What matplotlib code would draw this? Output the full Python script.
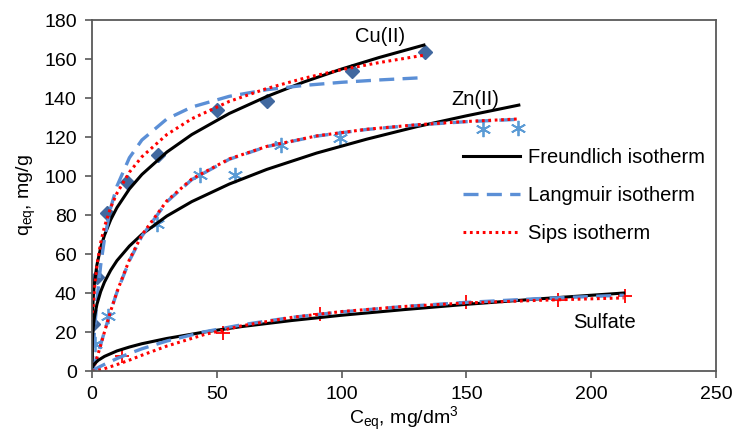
import matplotlib
matplotlib.use("Agg")
import matplotlib.pyplot as plt

plt.rcParams['font.family'] = ['Liberation Sans', 'DejaVu Sans']
plt.rcParams['mathtext.fontset'] = 'custom'
plt.rcParams['mathtext.rm'] = 'Liberation Sans'
plt.rcParams['mathtext.it'] = 'Liberation Sans'

# measured points
cu_c = [0.5, 2, 6, 14, 26.4, 50, 70, 104, 133.4]
cu_q = [24, 48, 81, 97, 110.6, 134, 138.4, 154, 163.6]
zn_c = [1.2, 6.5, 26, 43.3, 57.3, 75.7, 99.4, 156.7, 170.7]
zn_q = [14, 28, 75.6, 100.8, 100.8, 115.7, 119.3, 124, 124.5]
su_c = [12, 52.5, 91.5, 150, 186.7, 213.5]
su_q = [7.5, 19.6, 29.3, 35.5, 36.5, 38.6]

# isotherm curves
cu_x = [0, 0.05, 0.2, 0.5, 1, 2, 3.5, 5, 7.5, 10, 15, 20, 30, 40, 55, 70, 85, 100, 115, 133]
cu_fr = [0.0, 20.4, 29.5, 37.6, 45.3, 54.5, 63.3, 69.6, 77.6, 83.8, 93.4, 100.8, 112.3, 121.3,
         132.1, 140.8, 148.3, 154.9, 160.8, 167.2]
cu_la = [0.0, 1.2, 4.6, 11.0, 20.6, 36.5, 54.4, 67.7, 83.7, 94.8, 109.4, 118.5, 129.3, 135.4,
         140.9, 144.3, 146.5, 148.1, 149.3, 150.5]
cu_si = [0.0, 12.6, 22.5, 32.5, 42.3, 54.5, 65.9, 74.0, 83.9, 91.2, 102.0, 109.9, 121.3, 129.4,
         138.3, 144.9, 150.2, 154.6, 158.2, 162.0]

zn_x = [0, 0.2, 0.5, 1, 2, 3.5, 5, 7.5, 10, 15, 20, 30, 40, 55, 70, 90, 110, 130, 150, 171]
zn_fr = [0.0, 16.8, 22.3, 27.7, 34.3, 40.8, 45.6, 51.7, 56.6, 64.1, 70.1, 79.5, 86.9, 95.9,
         103.4, 111.8, 118.9, 125.3, 130.9, 136.4]
zn_la = [0.0, 0.6, 1.6, 3.3, 7.2, 13.6, 20.2, 30.8, 40.4, 56.6, 69.2, 86.8, 98.2, 108.6,
         115.1, 120.5, 123.9, 126.2, 127.9, 129.1]
zn_si = [0.0, 0.4, 1.2, 2.8, 6.8, 13.3, 20.0, 30.8, 40.6, 57.1, 69.8, 87.3, 98.5, 108.8,
         115.2, 120.6, 124.0, 126.3, 128.0, 129.3]

su_x = [0, 0.2, 0.5, 1, 2.5, 5, 10, 15, 20, 30, 45, 60, 80, 100, 125, 150, 180, 213]
su_fr = [0.0, 1.8, 2.7, 3.7, 5.5, 7.5, 10.3, 12.3, 14.0, 16.7, 20.0, 22.8, 25.9, 28.6, 31.5,
         34.2, 37.1, 40.0]
su_la = [0.0, 0.1, 0.4, 0.7, 1.8, 3.4, 6.4, 9.0, 11.4, 15.4, 20.1, 23.7, 27.5, 30.3, 33.1,
         35.2, 37.2, 38.9]
su_si = [0.0, 0.0, 0.0, 0.1, 0.4, 1.2, 3.3, 5.6, 8.1, 12.8, 18.7, 23.2, 27.5, 30.5, 33.1,
         34.9, 36.3, 37.5]

BLACK = "black"
BLUE = "#5b8fd6"
RED = "red"
DIAMOND = "#41689f"
STAR = "#5b9bd5"
SPINE = "#595959"
FS = 14

fig = plt.figure(figsize=(7.34, 4.37), dpi=100)
ax = fig.add_axes([0.1253, 0.151, 0.8502, 0.803])

fr_kw = dict(color=BLACK, lw=2.2, ls="-")
la_kw = dict(color=BLUE, lw=2.4, ls=(0, (4.5, 2.5)))
si_kw = dict(color=RED, lw=2.2, ls=(0, (0.9, 1.2)))

ax.plot(cu_c, cu_q, ls="none", marker="D", ms=7, color=DIAMOND)
ax.plot(zn_c, zn_q, ls="none", marker=(6, 2, 0), ms=11, mew=1.3, color=STAR)
ax.plot(su_c, su_q, ls="none", marker="+", ms=10, mew=1.3, color=RED)

ax.plot(cu_x, cu_fr, label="Freundlich isotherm", **fr_kw)
ax.plot(cu_x, cu_la, label="Langmuir isotherm", **la_kw)
ax.plot(cu_x, cu_si, label="Sips isotherm", **si_kw)
for xs, f, l, s in [(zn_x, zn_fr, zn_la, zn_si), (su_x, su_fr, su_la, su_si)]:
    ax.plot(xs, f, **fr_kw)
    ax.plot(xs, l, **la_kw)
    ax.plot(xs, s, **si_kw)

ax.text(115.4, 171.5, "Cu(II)", fontsize=FS + 0.5, ha="center", va="center")
ax.text(153.4, 139.4, "Zn(II)", fontsize=FS + 0.5, ha="center", va="center")
ax.text(205.5, 24.7, "Sulfate", fontsize=FS + 0.5, ha="center", va="center")

ax.set_xlim(0, 250)
ax.set_ylim(0, 180)
ax.set_xticks(range(0, 251, 50))
ax.set_yticks(range(0, 181, 20))
ax.tick_params(labelsize=FS, length=5, width=1.2, color=SPINE, pad=6)
for sp in ax.spines.values():
    sp.set_color(SPINE)
    sp.set_linewidth(1.3)

ax.set_xlabel(r"C$_{\mathregular{eq}}$, mg/dm$^{\mathregular{3}}$", fontsize=FS, labelpad=1)
ax.set_ylabel(r"q$_{\mathregular{eq}}$, mg/g", fontsize=FS, labelpad=4)

ax.legend(loc="upper left", bbox_to_anchor=(0.595, 0.635), frameon=False, fontsize=FS + 0.5,
          handlelength=2.8, handletextpad=0.4, labelspacing=0.95, borderaxespad=0,
          borderpad=0)

fig.savefig("out.png", dpi=100)
